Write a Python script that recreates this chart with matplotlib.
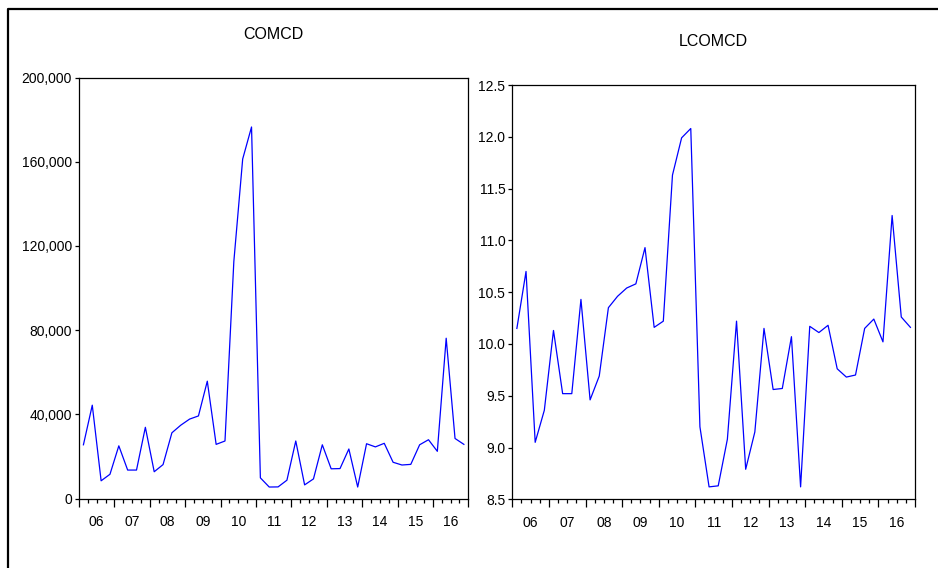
import matplotlib
matplotlib.use('Agg')
import matplotlib.pyplot as plt
from matplotlib.lines import Line2D
from matplotlib.ticker import FuncFormatter, MultipleLocator
import numpy as np

plt.rcParams['font.family'] = ['Liberation Sans Narrow', 'Liberation Sans', 'DejaVu Sans']

# quarterly series, 2006Q1 .. 2016Q4
years = ['06', '07', '08', '09', '10', '11', '12', '13', '14', '15', '16']

comcd = [25600, 44400, 8500, 11600, 25100, 13600, 13600, 33900, 12800, 16200, 31300,
         34900, 37800, 39300, 55800, 25800, 27400, 112600, 161300, 176500, 9900, 5540,
         5600, 8780, 27400, 6560, 9400, 25600, 14200, 14300, 23600, 5540, 26100,
         24600, 26300, 17300, 16000, 16300, 25600, 28000, 22500, 76200, 28600, 25800]

lcomcd = [10.15, 10.70, 9.05, 9.36, 10.13, 9.52, 9.52, 10.43, 9.46, 9.69, 10.35,
          10.46, 10.54, 10.58, 10.93, 10.16, 10.22, 11.63, 11.99, 12.08, 9.20, 8.62,
          8.63, 9.08, 10.22, 8.79, 9.15, 10.15, 9.56, 9.57, 10.07, 8.62, 10.17,
          10.11, 10.18, 9.76, 9.68, 9.70, 10.15, 10.24, 10.02, 11.24, 10.26, 10.16]

fig = plt.figure(figsize=(9.38, 5.68), dpi=100)

# outer frame (left and top edges only)
fig.add_artist(Line2D([8/938, 8/938, 1.0], [0.0, 1 - 9/568, 1 - 9/568],
                      transform=fig.transFigure, color='black', lw=1.6))


def draw_panel(ax, values, title, ylim, ystep, fmt):
    n = len(values)
    x = np.arange(n) + 0.5
    ax.plot(x, values, color='#0000ff', lw=0.9)
    ax.set_xlim(0, n)
    ax.set_ylim(*ylim)
    ax.yaxis.set_major_locator(MultipleLocator(ystep))
    ax.yaxis.set_major_formatter(FuncFormatter(fmt))
    ax.set_xticks(np.arange(0, n + 1, 4))
    ax.set_xticks(np.arange(0, n + 1, 1), minor=True)
    ax.set_xticklabels([])
    ax.tick_params(axis='x', which='major', direction='out', length=6, width=0.9)
    ax.tick_params(axis='x', which='minor', direction='out', length=3, width=0.9)
    ax.tick_params(axis='y', direction='out', length=3, width=0.9, pad=2, labelsize=10)
    for i, yr in enumerate(years):
        ax.annotate(yr, xy=(4 * i + 2, 0), xycoords=('data', 'axes fraction'),
                    xytext=(0, -17), textcoords='offset points',
                    ha='center', va='center', fontsize=10)
    for s in ax.spines.values():
        s.set_linewidth(0.9)
    ax.set_title(title, fontsize=11.5, pad=28)


ax1 = fig.add_axes([79/938, 1 - 498.7/568, 389.3/938, 421.2/568])
draw_panel(ax1, comcd, 'COMCD', (0, 200000), 40000, lambda v, p: f'{v:,.0f}')

ax2 = fig.add_axes([512.3/938, 1 - 499.3/568, 402.7/938, 414.3/568])
draw_panel(ax2, lcomcd, 'LCOMCD', (8.5, 12.5), 0.5, lambda v, p: f'{v:.1f}')

fig.savefig('out.png', dpi=100)
